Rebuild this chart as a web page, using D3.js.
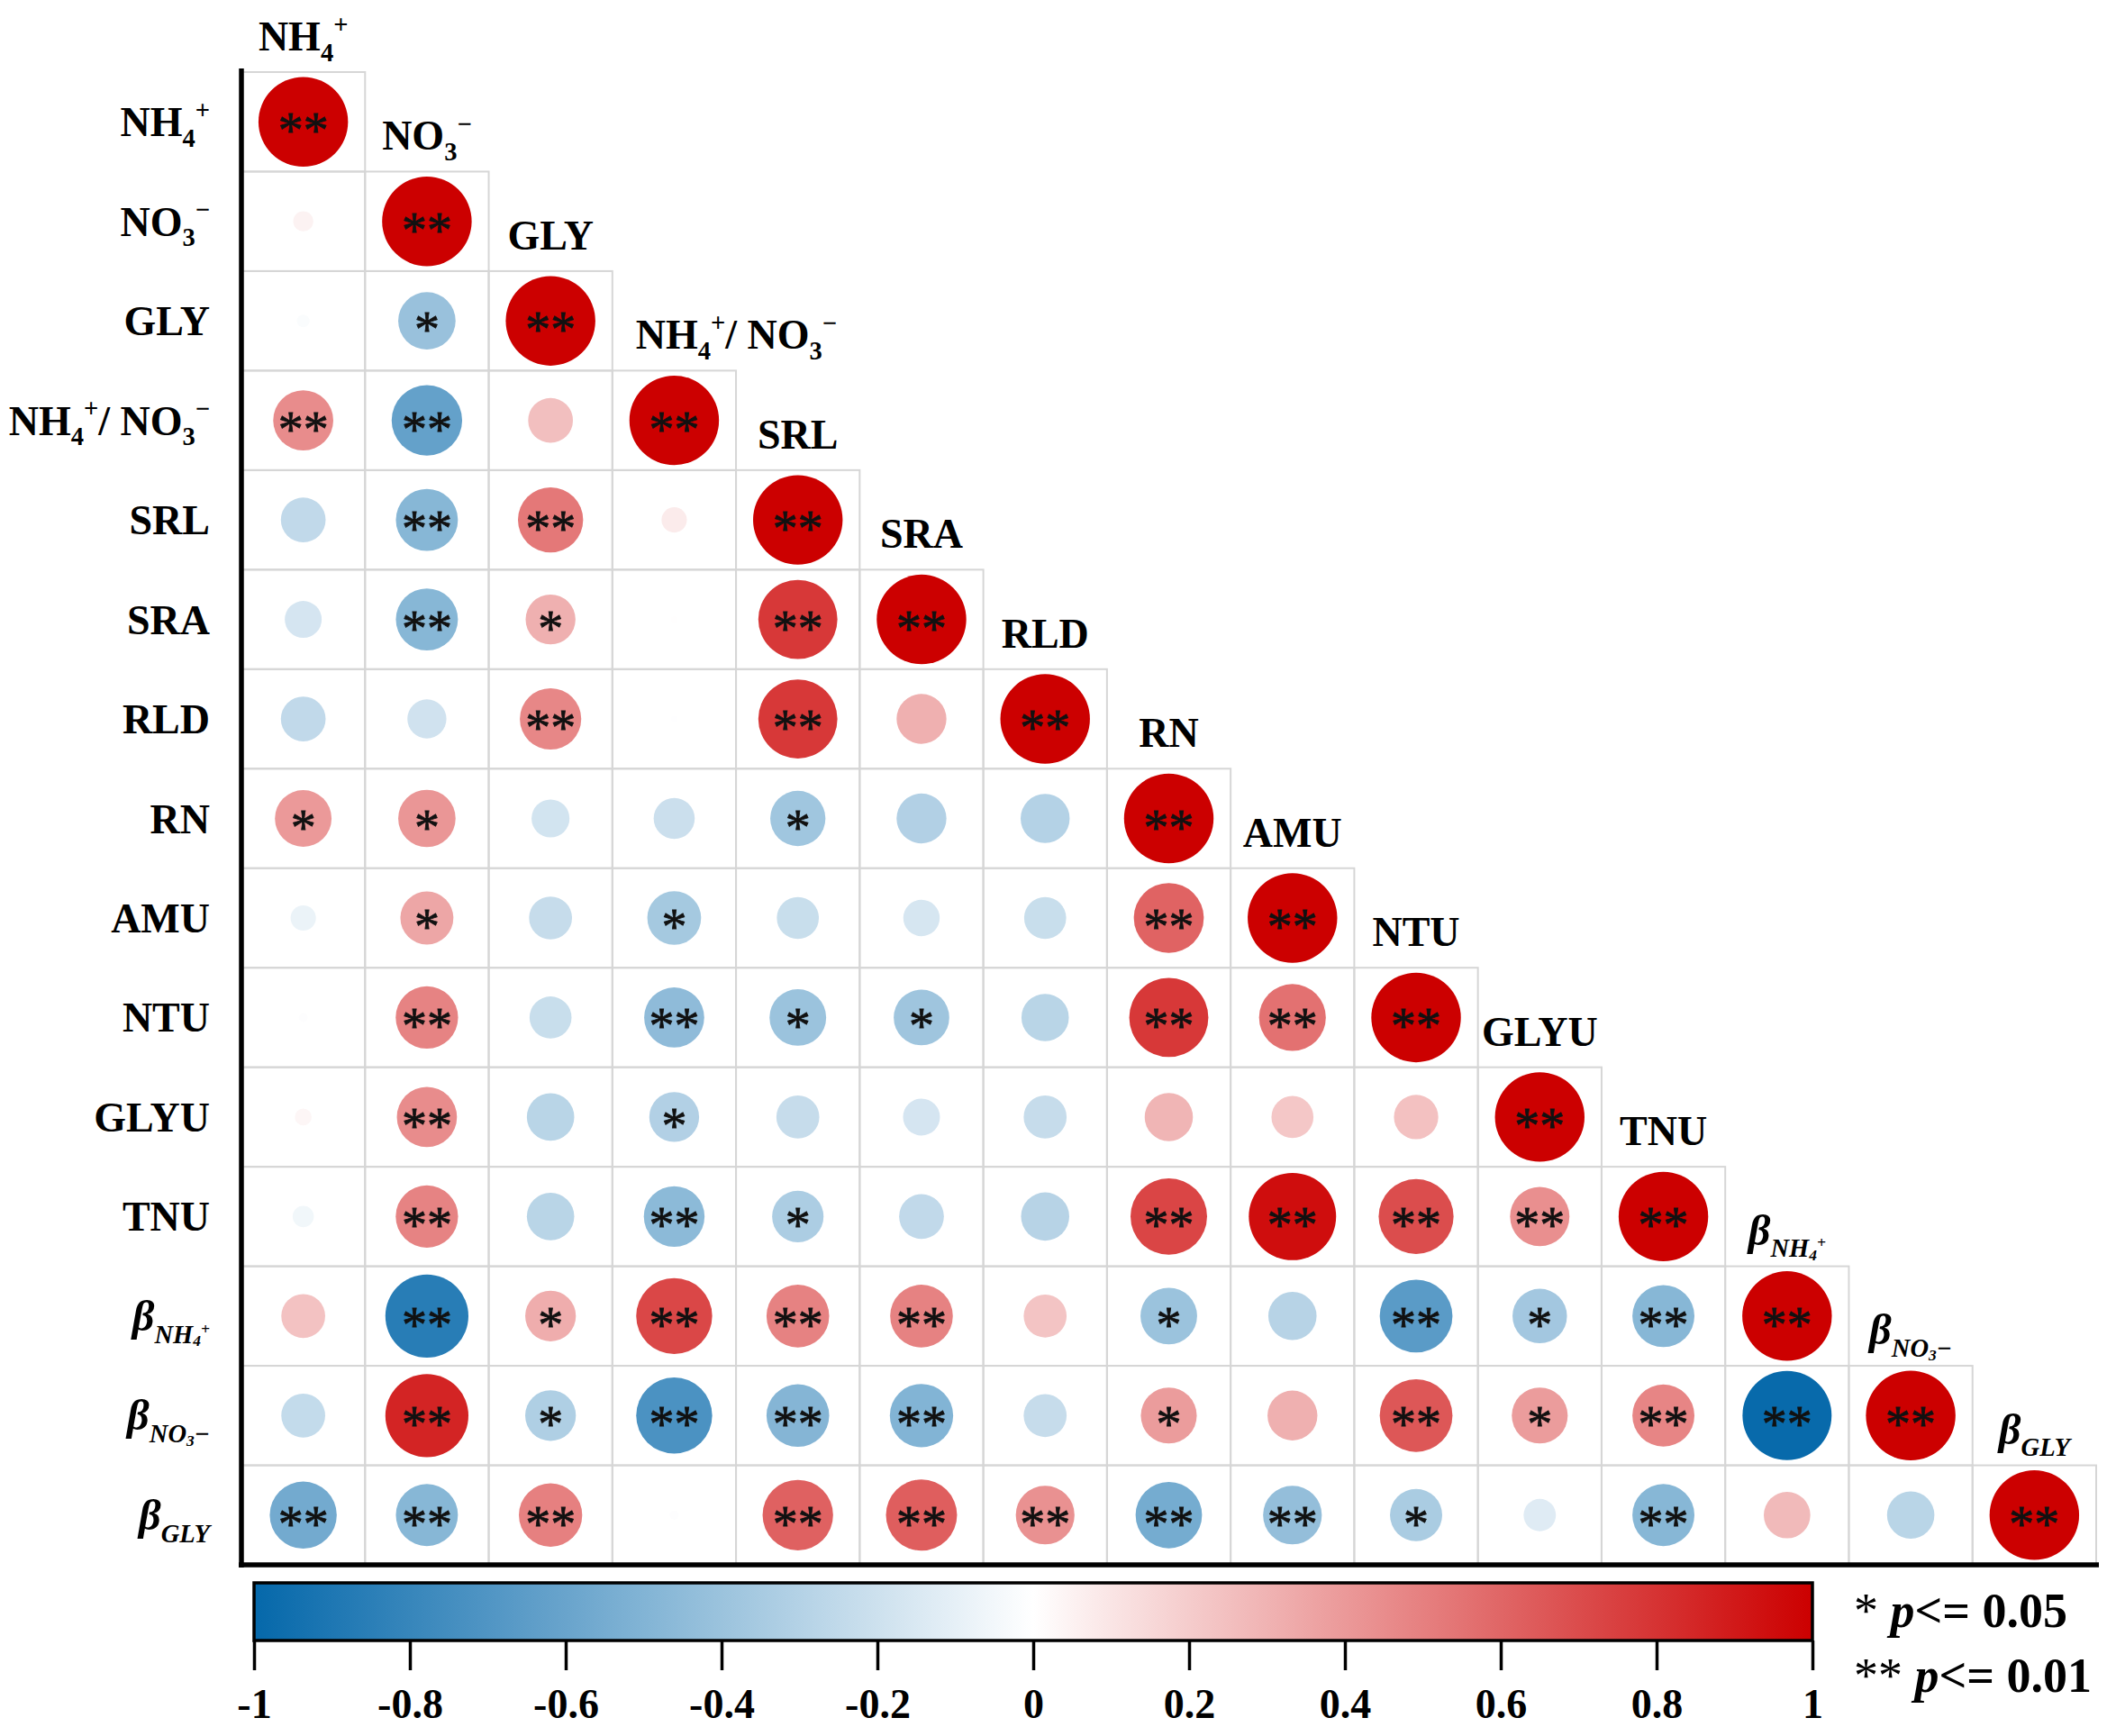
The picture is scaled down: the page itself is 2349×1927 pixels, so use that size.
<!DOCTYPE html>
<html>

<head>
    <meta charset="UTF-8" />
    <script src="https://d3js.org/d3.v7.min.js"></script>
    <style>
        body { margin: 0; background: #fff; }
    </style>
</head>

<body>
    <script>
        // variables, same order for rows and columns
        const names = ["NH4+", "NO3-", "GLY", "NH4+/NO3-", "SRL", "SRA", "RLD", "RN",
            "AMU", "NTU", "GLYU", "TNU", "bNH4+", "bNO3-", "bGLY"];

        // lower triangle of the correlation matrix, row by row (diagonal included)
        const corrRows = [
            [1],
            [0.05, 1],
            [-0.02, -0.41, 1],
            [0.45, -0.62, 0.25, 1],
            [-0.25, -0.48, 0.53, 0.08, 1],
            [-0.17, -0.48, 0.31, 0.005, 0.78, 1],
            [-0.25, -0.19, 0.47, -0.005, 0.78, 0.31, 1],
            [0.40, 0.41, -0.18, -0.21, -0.38, -0.31, -0.30, 1],
            [-0.08, 0.35, -0.23, -0.36, -0.22, -0.165, -0.22, 0.61, 1],
            [-0.01, 0.485, -0.22, -0.45, -0.40, -0.385, -0.28, 0.78, 0.556, 1],
            [0.035, 0.45, -0.28, -0.31, -0.23, -0.17, -0.23, 0.29, 0.22, 0.245, 1],
            [-0.056, 0.485, -0.28, -0.46, -0.33, -0.25, -0.29, 0.73, 0.95, 0.70, 0.44, 1],
            [0.24, -0.86, 0.32, 0.72, 0.49, 0.49, 0.23, -0.40, -0.29, -0.66, -0.37, -0.48, 1],
            [-0.24, 0.86, -0.32, -0.72, -0.49, -0.50, -0.23, 0.39, 0.31, 0.66, 0.39, 0.48, -0.99, 1],
            [-0.56, -0.48, 0.50, -0.01, 0.62, 0.63, 0.43, -0.55, -0.43, -0.34, -0.13, -0.48, 0.27, -0.28, 1]
        ];

        // significance: 0 none, 1 p<=0.05, 2 p<=0.01
        const sigRows = [
            [2],
            [0, 2],
            [0, 1, 2],
            [2, 2, 0, 2],
            [0, 2, 2, 0, 2],
            [0, 2, 1, 0, 2, 2],
            [0, 0, 2, 0, 2, 0, 2],
            [1, 1, 0, 0, 1, 0, 0, 2],
            [0, 1, 0, 1, 0, 0, 0, 2, 2],
            [0, 2, 0, 2, 1, 1, 0, 2, 2, 2],
            [0, 2, 0, 1, 0, 0, 0, 0, 0, 0, 2],
            [0, 2, 0, 2, 1, 0, 0, 2, 2, 2, 2, 2],
            [0, 2, 1, 2, 2, 2, 0, 1, 0, 2, 1, 2, 2],
            [0, 2, 1, 2, 2, 2, 0, 1, 0, 2, 1, 2, 2, 2],
            [2, 2, 2, 0, 2, 2, 2, 2, 2, 1, 0, 2, 0, 0, 2]
        ];

        const barTicks = [-1, -0.8, -0.6, -0.4, -0.2, 0, 0.2, 0.4, 0.6, 0.8, 1];
        const sigLegend = [["*", "0.05"], ["**", "0.01"]];

        // how each name is typeset: [text, kind]
        const labelParts = {
            "NH4+": [["NH"], ["4", "sub"], ["+", "sup"]],
            "NO3-": [["NO"], ["3", "sub"], ["\u2212", "sup"]],
            "NH4+/NO3-": [["NH"], ["4", "sub"], ["+", "sup"], ["/ NO"], ["3", "sub"], ["\u2212", "sup"]],
            "bNH4+": [["\u03b2", "beta"], ["NH", "bsub"], ["4", "bsub2"], ["+", "bsup2"]],
            "bNO3-": [["\u03b2", "beta"], ["NO", "bsub"], ["3", "bsub2"], ["\u2212", "bsub"]],
            "bGLY": [["\u03b2", "beta"], ["GLY", "bsub"]]
        };
        const kinds = {
            n: { size: 1, shift: 0, style: "normal" },
            sub: { size: 0.62, shift: 0.25, style: "normal" },
            sup: { size: 0.62, shift: -0.42, style: "normal" },
            beta: { size: 1.05, shift: 0, style: "italic" },
            bsub: { size: 0.62, shift: 0.3, style: "italic" },
            bsub2: { size: 0.38, shift: 0.38, style: "italic" },
            bsup2: { size: 0.38, shift: 0.08, style: "italic" }
        };

        let width = 2349;
        let height = 1927;
        let font = "'Liberation Serif', 'Times New Roman', serif";
        let labelSize = 46;

        let svg = d3.select("body")
            .append("svg")
            .attr("width", width)
            .attr("height", height)
            .style("font-family", font)

        svg.append("rect")
            .attr("width", width)
            .attr("height", height)
            .attr("fill", "#fff")

        const n = names.length;

        let x = d3.scaleBand()
            .domain(d3.range(n))
            .range([268, 2327])

        let y = d3.scaleBand()
            .domain(d3.range(n))
            .range([80, 1737])

        let color = d3.scaleLinear()
            .domain([-1, 0, 1])
            .range(["#0568aa", "#ffffff", "#cc0000"])

        let radius = d3.scaleSqrt()
            .domain([0, 1])
            .range([0, y.bandwidth() * 0.45])

        function richText(sel, name) {
            let parts = labelParts[name] || [[name]];
            let prev = 0;
            parts.forEach(function (p) {
                let k = kinds[p[1] || "n"];
                sel.append("tspan")
                    .attr("font-size", labelSize * k.size)
                    .attr("font-style", k.style)
                    .attr("dy", (k.shift - prev) * labelSize)
                    .text(p[0]);
                prev = k.shift;
            });
        }

        let cells = [];
        corrRows.forEach(function (row, i) {
            row.forEach(function (v, j) {
                cells.push({ i: i, j: j, v: v, sig: sigRows[i][j] });
            });
        });

        // grid boxes
        svg.append("g")
            .selectAll("rect")
            .data(cells)
            .join("rect")
            .attr("x", function (d) { return x(d.j) })
            .attr("y", function (d) { return y(d.i) })
            .attr("width", x.bandwidth())
            .attr("height", y.bandwidth())
            .attr("fill", "none")
            .attr("stroke", "#d6d6d6")
            .attr("stroke-width", 2)

        // circles
        svg.append("g")
            .selectAll("circle")
            .data(cells)
            .join("circle")
            .attr("cx", function (d) { return x(d.j) + x.bandwidth() / 2 })
            .attr("cy", function (d) { return y(d.i) + y.bandwidth() / 2 })
            .attr("r", function (d) { return radius(Math.abs(d.v)) })
            .attr("fill", function (d) { return color(d.v) })

        // significance stars
        svg.append("g")
            .selectAll("text")
            .data(cells.filter(function (d) { return d.sig > 0 }))
            .join("text")
            .attr("x", function (d) { return x(d.j) + x.bandwidth() / 2 })
            .attr("y", function (d) { return y(d.i) + y.bandwidth() / 2 + 29 })
            .attr("text-anchor", "middle")
            .attr("font-size", 56)
            .attr("fill", "#111")
            .attr("stroke", "#111")
            .attr("stroke-width", 0.8)
            .text(function (d) { return d.sig == 2 ? "**" : "*" })

        // axis lines
        svg.append("line")
            .attr("x1", x(0)).attr("x2", x(0))
            .attr("y1", y(0) - 4).attr("y2", y.range()[1] + 3)
            .attr("stroke", "#000").attr("stroke-width", 5.5)
        svg.append("line")
            .attr("x1", x(0) - 3).attr("x2", x.range()[1] + 3)
            .attr("y1", y.range()[1]).attr("y2", y.range()[1])
            .attr("stroke", "#000").attr("stroke-width", 5.5)

        // row labels
        svg.append("g")
            .selectAll("text")
            .data(names)
            .join("text")
            .attr("x", x(0) - 35)
            .attr("y", function (d, i) { return y(i) + y.bandwidth() / 2 + 16 })
            .attr("text-anchor", "end")
            .attr("font-weight", "bold")
            .attr("font-size", labelSize)
            .each(function (d) { richText(d3.select(this), d) })

        // column labels, above the diagonal cell
        svg.append("g")
            .selectAll("text")
            .data(names)
            .join("text")
            .attr("x", function (d, i) { return x(i) + x.bandwidth() / 2 })
            .attr("y", function (d, i) { return y(i) - 24 })
            .attr("text-anchor", "middle")
            .attr("font-weight", "bold")
            .attr("font-size", labelSize)
            .each(function (d, i) {
                let t = d3.select(this);
                richText(t, d);
                if (this.getBBox().width > x.bandwidth()) {
                    t.attr("text-anchor", "start").attr("x", x(i) + 26);
                }
            })

        // colour bar
        let bar = d3.scaleLinear()
            .domain([-1, 1])
            .range([282, 2012])
        let barTop = 1757, barBottom = 1821;

        let grad = svg.append("defs")
            .append("linearGradient")
            .attr("id", "bar-grad")
        grad.selectAll("stop")
            .data(d3.range(-1, 1.0001, 0.1))
            .join("stop")
            .attr("offset", function (d) { return ((d + 1) / 2 * 100) + "%" })
            .attr("stop-color", function (d) { return color(d) })

        svg.append("rect")
            .attr("x", bar(-1))
            .attr("y", barTop)
            .attr("width", bar(1) - bar(-1))
            .attr("height", barBottom - barTop)
            .attr("fill", "url(#bar-grad)")
            .attr("stroke", "#000")
            .attr("stroke-width", 3.5)

        let barAxis = svg.append("g")
            .attr("transform", `translate(0,${barBottom})`)
            .call(d3.axisBottom(bar)
                .tickValues(barTicks)
                .tickSize(33)
                .tickPadding(20)
                .tickFormat(function (d) { return String(d) }))
        barAxis.select(".domain").remove()
        barAxis.selectAll(".tick line")
            .attr("stroke", "#000")
            .attr("stroke-width", 3.5)
        barAxis.selectAll(".tick text")
            .attr("font-family", font)
            .attr("font-weight", "bold")
            .attr("font-size", 46)
            .attr("fill", "#000")

        // significance legend
        let leg = svg.append("g")
            .selectAll("text")
            .data(sigLegend)
            .join("text")
            .attr("x", 2058)
            .attr("y", function (d, i) { return 1806 + i * 72 })
            .attr("font-size", 54)
            .attr("font-weight", "bold")
        leg.append("tspan").attr("font-weight", "normal").text(function (d) { return d[0] + " " })
        leg.append("tspan").attr("font-style", "italic").text("p")
        leg.append("tspan").text(function (d) { return "<= " + d[1] })
    </script>
</body>

</html>
